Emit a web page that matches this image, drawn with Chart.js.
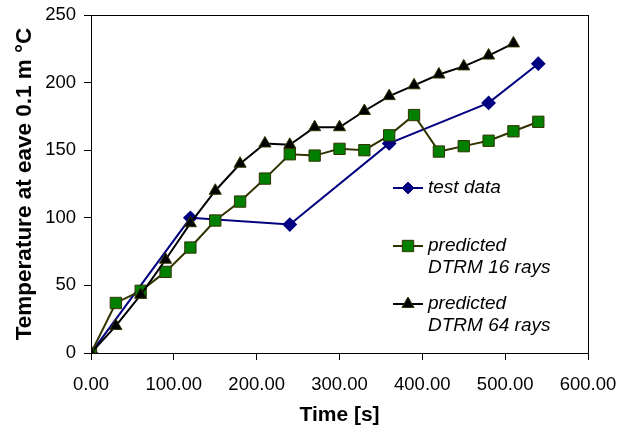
<!DOCTYPE html>
<html>
<head>
  <meta charset="UTF-8" />
  <title>Temperature at eave</title>
  <script src="https://cdn.jsdelivr.net/npm/chart.js"></script>
  <style>
    html, body { margin: 0; padding: 0; background: #fff; }
    #wrap { width: 619px; height: 437px; }
  </style>
</head>
<body>
  <div id="wrap"><canvas id="chart" width="619" height="437"></canvas></div>
  <script>
    // values
    const timeTest = [0, 120, 240, 360, 480, 540];
    const testData = [0, 100, 95, 155, 185, 214];

    const time16 = [0, 30, 60, 90, 120, 150, 180, 210, 240, 270, 300, 330, 360, 390, 420, 450, 480, 510, 540];
    const dtrm16 = [0, 37, 46, 60, 78, 98, 112, 129, 147, 146, 151, 150, 161, 176, 149, 153, 157, 164, 171];

    const time64 = [0, 30, 60, 90, 120, 150, 180, 210, 240, 270, 300, 330, 360, 390, 420, 450, 480, 510];
    const dtrm64 = [0, 20, 43, 69, 96, 120, 140, 155, 154, 167, 167, 179, 190, 198, 206, 212, 220, 229];

    const legendLabels = [['test data'], ['predicted', 'DTRM 16 rays'], ['predicted', 'DTRM 64 rays']];

    const FONT = '"Liberation Sans", Arial, sans-serif';
    const toXY = (xs, ys) => xs.map((x, i) => ({ x: x, y: ys[i] }));

    // box round the plot area
    const frame = {
      id: 'frame',
      afterDatasetsDraw(chart) {
        const a = chart.chartArea, ctx = chart.ctx;
        ctx.save();
        ctx.strokeStyle = '#000';
        ctx.lineWidth = 1;
        ctx.strokeRect(Math.round(a.left) + 0.5, Math.round(a.top) + 0.5, Math.round(a.right - a.left), Math.round(a.bottom - a.top));
        ctx.restore();
      }
    };

    // legend inside the plot, like the original
    const innerLegend = {
      id: 'innerLegend',
      afterDraw(chart) {
        const ctx = chart.ctx;
        const rows = [188, 246, 304];
        ctx.save();
        chart.data.datasets.forEach((ds, i) => {
          const y = rows[i];
          ctx.strokeStyle = ds.borderColor;
          ctx.lineWidth = 2;
          ctx.beginPath();
          ctx.moveTo(393, y);
          ctx.lineTo(423, y);
          ctx.stroke();
          ctx.fillStyle = ds.pointBackgroundColor;
          ctx.strokeStyle = ds.pointBorderColor;
          ctx.lineWidth = 1;
          Chart.helpers.drawPoint(ctx, { pointStyle: ds.pointStyle, radius: ds.pointRadius, borderWidth: 1 }, 408, y);
          ctx.fillStyle = '#000';
          ctx.font = 'italic 19px ' + FONT;
          ctx.textBaseline = 'middle';
          ctx.textAlign = 'left';
          legendLabels[i].forEach((t, j) => ctx.fillText(t, 428, y + j * 22));
        });
        ctx.restore();
      }
    };

    new Chart(document.getElementById('chart'), {
      type: 'line',
      data: {
        datasets: [
          {
            label: 'test data',
            data: toXY(timeTest, testData),
            borderColor: '#000080',
            borderWidth: 2,
            pointStyle: 'rectRot',
            pointRadius: 6,
            pointBackgroundColor: '#000080',
            pointBorderColor: '#000080',
            order: 3
          },
          {
            label: 'predicted DTRM 16 rays',
            data: toXY(time16, dtrm16),
            borderColor: '#333300',
            borderWidth: 2,
            pointStyle: 'rect',
            pointRadius: 8,
            pointBackgroundColor: '#008000',
            pointBorderColor: '#333300',
            pointBorderWidth: 1,
            order: 2
          },
          {
            label: 'predicted DTRM 64 rays',
            data: toXY(time64, dtrm64),
            borderColor: '#000000',
            borderWidth: 2,
            pointStyle: 'triangle',
            pointRadius: 7,
            pointBackgroundColor: '#000000',
            pointBorderColor: '#333300',
            pointBorderWidth: 1,
            order: 1
          }
        ]
      },
      options: {
        responsive: false,
        animation: false,
        layout: { padding: { top: 15, right: 31, left: 0, bottom: 0 } },
        plugins: { legend: { display: false }, tooltip: { enabled: false } },
        elements: { line: { tension: 0 } },
        scales: {
          x: {
            type: 'linear',
            min: 0,
            max: 600,
            afterFit: s => { s.height = 84; s.paddingLeft = 0; s.paddingRight = 0; },
            border: { color: '#000', width: 1 },
            grid: { drawOnChartArea: false, drawTicks: true, tickLength: 7, color: '#000' },
            ticks: {
              stepSize: 100,
              padding: 14,
              color: '#000',
              font: { family: FONT, size: 18.5 },
              maxRotation: 0,
              callback: v => v.toFixed(2)
            },
            title: {
              display: true,
              text: 'Time [s]',
              color: '#000',
              font: { family: FONT, size: 21, weight: 'bold' },
              padding: { top: 0, bottom: 9 }
            }
          },
          y: {
            min: 0,
            max: 250,
            afterFit: s => { s.width = 91; s.paddingTop = 0; s.paddingBottom = 0; },
            border: { color: '#000', width: 1 },
            grid: { drawOnChartArea: false, drawTicks: true, tickLength: 7, color: '#000' },
            ticks: {
              stepSize: 50,
              padding: 8,
              color: '#000',
              font: { family: FONT, size: 18.5 }
            },
            title: {
              display: true,
              text: 'Temperature at eave 0.1 m °C',
              color: '#000',
              font: { family: FONT, size: 22.5, weight: 'bold' },
              padding: { top: 11, bottom: 0 }
            }
          }
        }
      },
      plugins: [frame, innerLegend]
    });
  </script>
</body>
</html>
